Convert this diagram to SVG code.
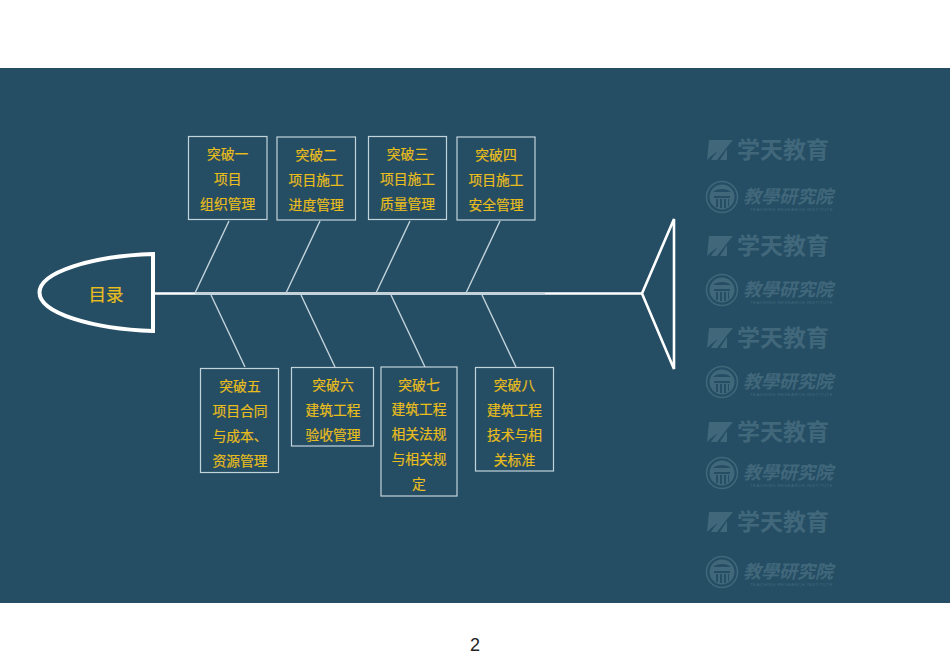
<svg xmlns="http://www.w3.org/2000/svg" width="950" height="672" viewBox="0 0 950 672">
<style>
.box{fill:none;stroke:#c3d3db;stroke-width:1.2}
.t{font-family:"Liberation Sans","Noto Sans CJK SC",sans-serif;font-size:13.8px;fill:#e8bd1c;stroke:#e8bd1c;stroke-width:.2;text-anchor:middle}
.rib{stroke:#c3d3db;stroke-width:1.4;fill:none}
.wm{fill:#41677b}
.wt{font-family:"Noto Sans CJK SC",sans-serif;font-weight:700;font-size:23px;fill:#41677b}
.wc{font-family:"Noto Sans CJK TC",serif;font-style:italic;font-size:18px;font-weight:700;fill:#41677b}
.we{font-family:"Liberation Sans",sans-serif;font-size:4.4px;fill:#41677b;letter-spacing:.4px}
</style>
<defs>
<g id="xt">
<path class="wm" d="M709 140H733L727 147C720 149 713 154 707 160ZM731 142L717 160H711C716 152 723 146 731 142ZM727 149V160H720Z"/>
<text class="wt" x="737" y="158">学天教育</text>
</g>
<g id="jy">
<circle cx="722" cy="197" r="15.500" fill="none" stroke="#41677b" stroke-width="1.500"/>
<circle class="wm" cx="722" cy="197" r="12.500"/>
<path d="M713 192C717 188 727 188 731 192ZM714 196H730V198H714ZM716 199H718V207H716ZM720 199H722V208H720ZM724 199H726V208H724ZM728 199H729V206H728Z" fill="#254e64"/>
<text class="wc" x="743" y="203">教學研究院</text>
<text class="we" x="750" y="211">TEACHING RESEARCH INSTITUTE</text>
</g>
</defs>
<rect width="950" height="672" fill="#ffffff"/>
<rect y="68" width="950" height="535" fill="#254e64"/>
<g id="watermark">
<use href="#xt"/>
<use href="#jy"/>
<use href="#xt" y="96"/>
<use href="#jy" y="93"/>
<use href="#xt" y="188"/>
<use href="#jy" y="185"/>
<use href="#xt" y="282"/>
<use href="#jy" y="276"/>
<use href="#xt" y="372"/>
<use href="#jy" y="375"/>
</g>
<g id="connectors">
<path d="M154 293.500H642" stroke="#ffffff" stroke-width="2.400" fill="none"/>
<path d="M195 293.800H545" stroke="#c3d3db" stroke-width="2" fill="none"/>
<path class="rib" d="M229 221L195 293"/>
<path class="rib" d="M320 221L286 293"/>
<path class="rib" d="M410 221L376 293"/>
<path class="rib" d="M500 221L466 293"/>
<path class="rib" d="M211 295L245 367"/>
<path class="rib" d="M301 295L335 367"/>
<path class="rib" d="M391 295L425 367"/>
<path class="rib" d="M482 295L516 367"/>
</g>
<g id="head">
<path d="M153 254C92 256 39.500 272 39.500 292.500C39.500 313 92 329 153 331Z" fill="none" stroke="#ffffff" stroke-width="4"/>
<text x="106" y="301" font-family="Liberation Sans,Noto Sans CJK SC,sans-serif" font-size="17.500px" fill="#e8bd1c" stroke="#e8bd1c" stroke-width=".2" text-anchor="middle">目录</text>
</g>
<g id="tail">
<path d="M642 293.500L674 219V369Z" fill="none" stroke="#ffffff" stroke-width="2.600" stroke-linejoin="miter"/>
</g>
<g id="n1"><rect class="box" x="188.500" y="136.500" width="78.500" height="83"/>
<text class="t" x="227.700" y="159">突破一</text><text class="t" x="227.700" y="184">项目</text><text class="t" x="227.700" y="209">组织管理</text></g>
<g id="n2"><rect class="box" x="277" y="137" width="78.500" height="83"/>
<text class="t" x="316.200" y="160">突破二</text><text class="t" x="316.200" y="185">项目施工</text><text class="t" x="316.200" y="210">进度管理</text></g>
<g id="n3"><rect class="box" x="368.500" y="136.500" width="78" height="83"/>
<text class="t" x="407.500" y="159">突破三</text><text class="t" x="407.500" y="184">项目施工</text><text class="t" x="407.500" y="209">质量管理</text></g>
<g id="n4"><rect class="box" x="457" y="137" width="78" height="83"/>
<text class="t" x="496" y="160">突破四</text><text class="t" x="496" y="185">项目施工</text><text class="t" x="496" y="210">安全管理</text></g>
<g id="n5"><rect class="box" x="200.500" y="368.500" width="78" height="104"/>
<text class="t" x="240" y="391">突破五</text><text class="t" x="240" y="416">项目合同</text><text class="t" x="240" y="441">与成本、</text><text class="t" x="240" y="466">资源管理</text></g>
<g id="n6"><rect class="box" x="291.500" y="367.500" width="82" height="78.500"/>
<text class="t" x="333" y="390">突破六</text><text class="t" x="333" y="415">建筑工程</text><text class="t" x="333" y="440">验收管理</text></g>
<g id="n7"><rect class="box" x="381" y="367" width="76" height="129"/>
<text class="t" x="419" y="390">突破七</text><text class="t" x="419" y="414">建筑工程</text><text class="t" x="419" y="439">相关法规</text><text class="t" x="419" y="464">与相关规</text><text class="t" x="419" y="489">定</text></g>
<g id="n8"><rect class="box" x="475.500" y="367.500" width="78" height="103.500"/>
<text class="t" x="514.500" y="390">突破八</text><text class="t" x="514.500" y="415">建筑工程</text><text class="t" x="514.500" y="440">技术与相</text><text class="t" x="514.500" y="465">关标准</text></g>
<text x="475" y="651" font-family="Liberation Sans,sans-serif" font-size="18px" fill="#222222" text-anchor="middle">2</text>
</svg>
